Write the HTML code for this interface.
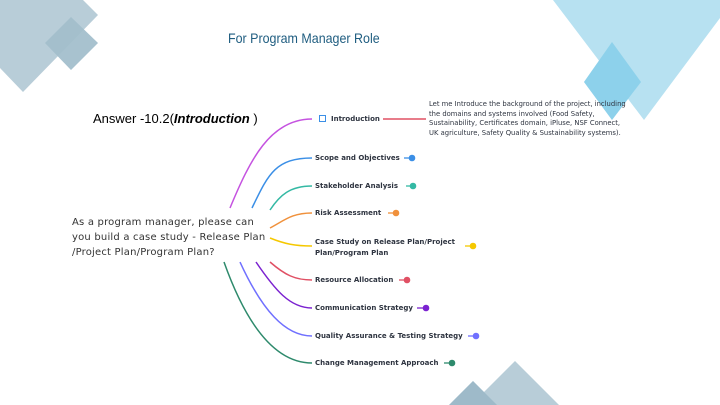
<!DOCTYPE html>
<html><head><meta charset="utf-8"><style>
body{margin:0;width:720px;height:405px;overflow:hidden;background:#fff;font-family:"Liberation Sans",sans-serif;position:relative}
.t{position:absolute;white-space:nowrap}
.n{position:absolute;white-space:nowrap;font-size:7px;font-weight:bold;color:#2e3440;font-family:"DejaVu Sans","Liberation Sans",sans-serif;letter-spacing:0}
</style></head><body>
<svg width="720" height="405" style="position:absolute;left:0;top:0">
<g fill="#b8cdd8">
<polygon points="0,0 83,0 98,15 23,92 0,68"/>
<polygon points="71,17 98,43 71,70 45,43" opacity="0.9"/>
<polygon points="71,17 98,43 71,70 45,43" fill="#7fa5b8" opacity="0.35"/>
</g>
<g fill="#b7e1f1">
<polygon points="553,0 720,0 720,18 644,120"/>
<polygon points="612,42 641,82 612,120 584,82"/>
<polygon points="612,42 641,82 612,120 584,82" fill="#6cc4e6" opacity="0.55"/>
</g>
<g fill="#b8cdd8">
<polygon points="515,361 559,405 471,405"/>
<polygon points="473,381 497,405 449,405"/>
<polygon points="473,381 497,405 449,405" fill="#7fa5b8" opacity="0.45"/>
</g>
<rect x="66" y="208" width="202" height="56" fill="#fff"/>
<g fill="none" stroke-width="1.5">
<path d="M230,208 C250,160 270,119 312,119" stroke="#c553e0"/>
<path d="M252,208 C268,175 275,158 312,158" stroke="#3b8fe6"/>
<path d="M270,210 C280,195 290,186 312,186" stroke="#34b9a4"/>
<path d="M270,228 C285,220 292,213 312,213" stroke="#f0913c"/>
<path d="M270,238 C285,244 295,246 312,246" stroke="#f5c800"/>
<path d="M270,262 C285,275 295,280 312,280" stroke="#e05064"/>
<path d="M256,262 C275,290 290,308 312,308" stroke="#7b22d0"/>
<path d="M240,262 C262,310 285,336 312,336" stroke="#7070ff"/>
<path d="M224,262 C250,335 280,363 312,363" stroke="#2e8a6c"/>
<path d="M383,119 L426,119" stroke="#e05064"/>
</g>
<rect x="319.5" y="115.5" width="6" height="6" fill="none" stroke="#3b8fe6" stroke-width="1"/>
<g stroke-width="1.3">
<line x1="404" y1="158" x2="410" y2="158" stroke="#3b8fe6"/><circle cx="412" cy="158" r="3.3" fill="#3b8fe6"/>
<line x1="406" y1="186" x2="411" y2="186" stroke="#34b9a4"/><circle cx="413" cy="186" r="3.3" fill="#34b9a4"/>
<line x1="388" y1="213" x2="394" y2="213" stroke="#f0913c"/><circle cx="396" cy="213" r="3.3" fill="#f0913c"/>
<line x1="465" y1="246" x2="471" y2="246" stroke="#f5c800"/><circle cx="473" cy="246" r="3.3" fill="#f5c800"/>
<line x1="399" y1="280" x2="405" y2="280" stroke="#e05064"/><circle cx="407" cy="280" r="3.3" fill="#e05064"/>
<line x1="417" y1="308" x2="423" y2="308" stroke="#7b22d0"/><circle cx="426" cy="308" r="3.3" fill="#7b22d0"/>
<line x1="468" y1="336" x2="474" y2="336" stroke="#7070ff"/><circle cx="476" cy="336" r="3.3" fill="#7070ff"/>
<line x1="444" y1="363" x2="450" y2="363" stroke="#2e8a6c"/><circle cx="452" cy="363" r="3.3" fill="#2e8a6c"/>
</g>
</svg>
<div class="t" style="left:228px;top:30px;font-size:14px;color:#1f5d80;transform:scaleX(0.89);transform-origin:0 0">For Program Manager Role</div>
<div class="t" style="left:93px;top:111px;font-size:13px;color:#000">Answer -10.2(<b><i>Introduction</i></b> )</div>
<div class="t" style="left:72px;top:215px;font-size:10px;line-height:15px;color:#333;font-family:'DejaVu Sans','Liberation Sans',sans-serif;letter-spacing:0.2px">As a program manager, please can<br>you build a case study - Release Plan<br>/Project Plan/Program Plan?</div>
<div class="n" style="left:331px;top:115px">Introduction</div>
<div class="n" style="left:315px;top:154px">Scope and Objectives</div>
<div class="n" style="left:315px;top:182px">Stakeholder Analysis</div>
<div class="n" style="left:315px;top:209px">Risk Assessment</div>
<div class="n" style="left:315px;top:237px;line-height:11px">Case Study on Release Plan/Project<br>Plan/Program Plan</div>
<div class="n" style="left:315px;top:276px">Resource Allocation</div>
<div class="n" style="left:315px;top:304px">Communication Strategy</div>
<div class="n" style="left:315px;top:332px">Quality Assurance &amp; Testing Strategy</div>
<div class="n" style="left:315px;top:359px">Change Management Approach</div>
<div class="t" style="left:429px;top:100px;font-size:6.8px;line-height:9.5px;color:#2e3440;font-family:'DejaVu Sans','Liberation Sans',sans-serif">Let me Introduce the background of the project, including<br>the domains and systems involved (Food Safety,<br>Sustainability, Certificates domain, iPluse, NSF Connect,<br>UK agriculture, Safety Quality &amp; Sustainability systems).</div>
</body></html>
